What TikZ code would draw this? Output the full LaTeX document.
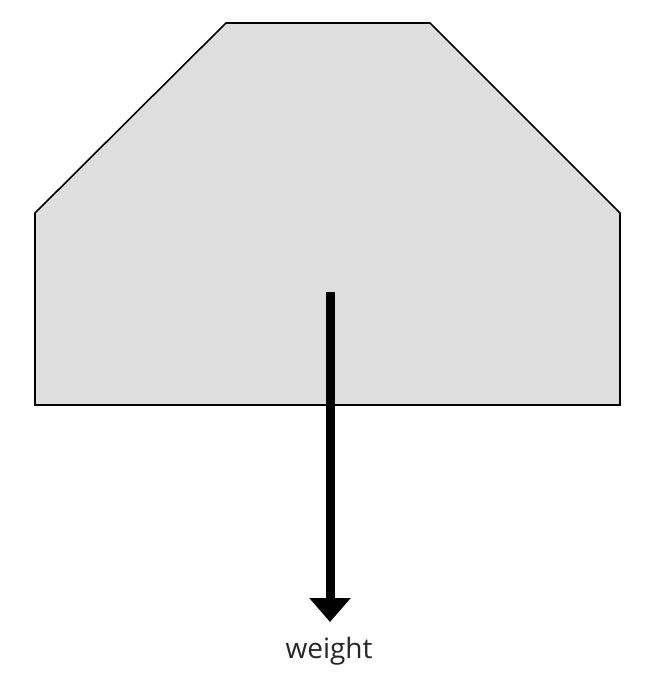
\documentclass[tikz,border=0pt]{standalone}
\usepackage{fontspec}
\setmainfont{Open Sans}
\usetikzlibrary{arrows.meta}
\begin{document}
\begin{tikzpicture}[x=1pt,y=-1pt,
  body/.style={draw=black,line width=1.6pt,fill=black!13,line join=miter},
  force/.style={line width=9pt,-{Triangle[width=40pt,length=24pt]},shorten >=0pt},
  lbl/.style={font=\fontsize{28}{32}\selectfont,text=black!85}]
\useasboundingbox (0,0) rectangle (653,675);
\draw[body] (35,405) -- (35,213) -- (226,23) -- (430,23) -- (620,213) -- (620,405) -- cycle;
\coordinate (cg) at (330,292);
\coordinate (tip) at (330,622);
\draw[force] (cg) -- (tip);
\node[lbl,anchor=base] (w) at (329,658) {weight};
\end{tikzpicture}
\end{document}
